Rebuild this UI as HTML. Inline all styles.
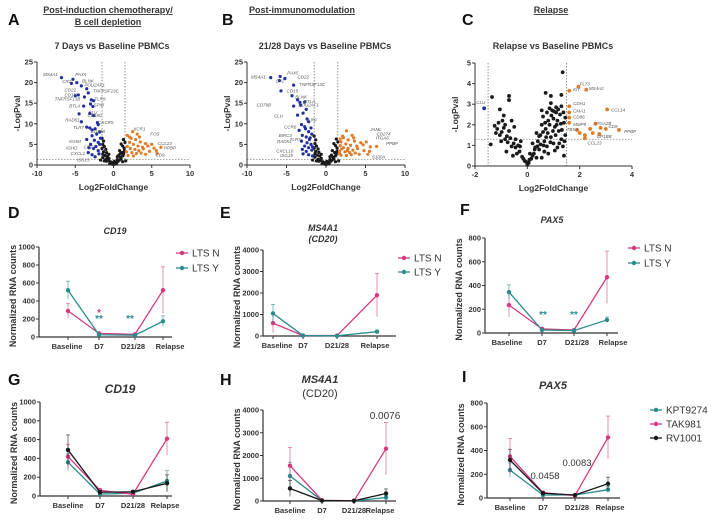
<!DOCTYPE html>
<html><head><meta charset="utf-8"><style>
html,body{margin:0;padding:0;background:#fff;width:720px;height:520px;overflow:hidden}
svg{display:block;font-family:"Liberation Sans",Arial,sans-serif}
.tk{font-size:7.5px;font-weight:bold;fill:#333}
.ttl{font-size:9px;font-weight:bold;fill:#333}
.gene{font-size:4.5px;font-style:italic;fill:#555}
.pl{font-size:16px;font-weight:bold;fill:#111}
</style></head><body>
<svg id="fig" width="720" height="520" viewBox="0 0 720 520" xmlns="http://www.w3.org/2000/svg"></svg>
<script>
// ---------- Volcano data ----------
const aBlue=[[-6.8,21.2],[-5.3,20.8],[-4.8,20],[-5.5,19.8],[-4.2,19.2],[-3.5,18.5],[-3.3,17.5],[-4.6,17],[-5,16.8],[-3.8,16.5],[-2.9,15.8],[-2.6,15.6],[-3,14.8],[-2.7,14.2],[-3.9,14.3],[-3.1,12.5],[-2.6,12],[-4.5,12.4],[-4.2,10.5],[-2.1,10.3],[-3.5,9.2],[-3.1,9],[-2.8,8.5],[-2.4,8.8],[-2.2,7.5],[-2.8,7.1],[-3.5,6.2],[-2.5,6],[-2,5.5],[-3,5],[-2.3,4.5],[-2.6,4],[-1.8,5],[-2,3.5],[-3.3,3],[-2.8,2.5],[-2.4,2],[-1.9,2.7],[-1.7,6.5],[-3.2,4.2],[-2,9.8],[-1.8,8]];
const aOrange=[[2.5,8.1],[3.1,7.5],[2.3,6.5],[2.9,6.2],[3.5,5.6],[4.2,5.2],[5,5],[2.1,5.5],[2.6,5],[3.2,4.6],[3.8,4.3],[4.5,4.6],[5.3,4.1],[6.2,4.3],[1.8,4.5],[2.2,4],[2.8,3.8],[3.3,3.5],[3.9,3.9],[4.7,3.3],[5.6,3.5],[1.7,3.2],[2.4,3],[3,2.8],[3.6,2.9],[1.9,2.3],[2.6,2.2],[4.2,2.6],[5.7,2.8],[2.1,6.8],[1.8,7.2],[3.4,6.8]];
const aBlack=[[-1.5,6.5],[-1.3,5.8],[-1.4,5],[-1.2,4.5],[-1.5,4],[-1,3.8],[-1.3,3.2],[-0.9,3],[-1.4,2.6],[-1.1,2.3],[-0.8,2.1],[-1.4,1.8],[-0.6,1.6],[-1,1.4],[-0.7,1.1],[-0.4,0.8],[-0.9,0.9],[-0.3,0.5],[-0.5,0.3],[-0.2,0.2],[0,0.1],[0.2,0.2],[0.4,0.4],[0.3,0.7],[0.6,0.9],[0.8,1.2],[0.5,1.3],[1,1.5],[0.9,1.9],[1.2,2.2],[0.7,2.4],[1.3,2.7],[1.1,3],[1.4,3.3],[0.8,3.5],[1.4,4],[1.2,4.6],[1,5.1],[1.5,5.5],[1.3,6.2],[-1.7,1.2],[1.6,1.0],[-0.1,0.6],[0.1,0.9],[-0.6,2.6],[0.5,2],[-1.2,1],[1.2,0.8],[-0.8,1.7],[0.9,2.8]];
const bBlue=[[-7,21.2],[-5.8,21.5],[-5.2,21],[-5.9,20.5],[-4.1,19.4],[-5.7,18],[-4.3,16.8],[-3.6,15.8],[-3.3,15.2],[-2.7,15.3],[-3.2,14.5],[-4.1,14.3],[-2.5,13.5],[-2.9,12.6],[-3.6,12.1],[-2.4,11.2],[-2.2,10.5],[-3.1,9.8],[-2.7,9.3],[-1.9,9],[-3.4,8.4],[-2.2,8.1],[-1.8,7.5],[-3,7.2],[-2.5,6.8],[-2.1,6.2],[-3.1,5.8],[-2.4,5.4],[-1.9,5],[-2.7,4.6],[-2.2,4.2],[-3,3.8],[-2.5,3.3],[-1.8,3.6],[-2.9,2.7],[-2.2,2.5],[-1.7,2.2],[-2,6.6],[-1.7,4.4],[-2.6,8.8]];
const bOrange=[[2.6,8.3],[3.3,7.2],[2.2,6.6],[2.8,6.1],[3.6,5.8],[4.4,5.4],[5.1,5.6],[1.9,5.6],[2.5,5.1],[3.1,4.8],[3.9,4.6],[4.7,4.9],[5.6,4.4],[6.4,4.5],[1.8,4.7],[2.2,4.2],[2.8,4],[3.4,3.6],[4,4],[4.8,3.5],[5.5,3.3],[1.7,3.4],[2.4,3.2],[3,3],[3.7,2.9],[1.9,2.4],[2.6,2.3],[4.2,2.6],[5.3,2.6],[2.1,7],[1.8,6.3],[3.5,6.6],[2,3.9],[2.7,3.5],[1.7,2.8],[3.2,2.5]];
const bBlack=[[-1.5,7],[-1.3,6.1],[-1.4,5.2],[-1.2,4.6],[-1.5,4.1],[-1,3.9],[-1.3,3.3],[-0.9,3.1],[-1.4,2.7],[-1.1,2.4],[-0.8,2.2],[-1.4,1.9],[-0.6,1.6],[-1,1.4],[-0.7,1.1],[-0.4,0.8],[-0.9,0.9],[-0.3,0.5],[-0.5,0.3],[-0.2,0.2],[0,0.1],[0.2,0.2],[0.4,0.4],[0.3,0.7],[0.6,0.9],[0.8,1.2],[0.5,1.3],[1,1.5],[0.9,1.9],[1.2,2.2],[0.7,2.4],[1.3,2.7],[1.1,3],[1.4,3.3],[0.8,3.5],[1.4,4.1],[1.2,4.7],[1,5.2],[1.5,5.6],[1.3,6.3],[-1.7,1.2],[1.6,1.0],[-0.1,0.6],[0.1,0.9],[-0.6,2.6],[0.5,2],[-1.2,1],[1.2,0.8]];
const cBlack=[[1.35,4.55],[-1.35,3.35],[-0.7,3.4],[-0.7,3.2],[0.7,3.55],[0.9,3.4],[1.3,3.45],[-1.05,2.75],[-0.9,2.45],[-0.95,2.2],[-1.15,1.8],[-1.2,1.6],[-1.05,1.5],[-0.85,1.3],[-0.7,1.7],[-0.6,2.2],[-0.5,1.9],[-0.45,1.3],[-0.35,1.0],[-0.6,0.95],[-0.3,0.7],[-0.2,0.45],[-0.1,0.25],[0,0.05],[0.05,0.15],[0.15,0.35],[0.25,0.6],[0.3,0.9],[0.4,1.2],[0.35,1.6],[0.5,1.5],[0.55,2],[0.6,2.4],[0.7,1.8],[0.75,2.6],[0.8,2.2],[0.85,2.8],[0.95,2.7],[1.0,2.3],[1.05,1.9],[1.1,2.6],[1.15,2.2],[1.2,1.7],[1.25,2.5],[1.3,2.9],[1.3,1.3],[1.4,2.1],[1.45,1.5],[1.4,0.5],[-1.4,1.05],[0.2,1.1],[0.45,0.8],[0.65,1.2],[0.9,1.4],[1.0,1.1],[-0.25,1.2],[-0.8,0.7],[-0.55,0.5],[0.1,0.6],[0.55,0.4],[1.15,0.9],[0.8,0.6],
 [-1.25,1.95],[-1.1,2.1],[-0.98,1.65],[-0.9,1.85],[-0.78,1.45],[-0.75,1.15],[-0.65,1.35],[-0.52,1.1],[-0.4,0.6],[-0.15,0.35],[-0.05,0.2],[0.08,0.3],[0.2,0.5],[0.28,0.8],[0.38,0.95],[0.45,1.45],[0.5,1.05],[0.6,1.65],[0.62,1.0],[0.68,2.1],[0.72,1.4],[0.78,1.6],[0.85,2.0],[0.88,1.15],[0.92,2.45],[0.98,1.7],[1.02,2.65],[1.08,1.5],[1.12,2.0],[1.18,2.75],[1.22,1.1],[1.28,2.05],[1.32,1.75],[1.38,2.6],[1.42,1.2],[1.45,2.35],[0.55,2.7],[0.65,0.7],[-0.85,2.0],[-1.0,1.2],[-0.45,0.9],[0.9,3.05],[1.1,2.85],[0.35,0.4],[-0.28,0.95],[1.36,0.95],[1.05,0.75],[0.75,0.95]];
const cOrange=[[1.95,3.85],[1.6,3.65],[2.25,3.7],[1.6,2.9],[1.6,2.6],[1.6,2.35],[1.6,2.1],[3.05,2.75],[2.6,2.05],[2.4,1.8],[2.8,1.85],[3.0,1.8],[3.5,1.75],[2.0,1.6],[2.2,1.5],[2.5,1.6],[2.75,1.55],[2.2,1.35],[1.9,1.75]];
const cBlue=[[-1.65,2.8]];

// ---------- Line chart data ----------
const timepoints=["Baseline","D7","D21/28","Relapse"];
const dN=[290,40,30,520], dNerr=[80,15,10,260], dY=[520,25,20,175], dYerr=[100,10,8,60];
const eN=[600,20,20,1900], eNerr=[450,10,10,1000], eY=[1050,20,10,200], eYerr=[420,10,8,80];
const fN=[235,35,25,470], fNerr=[100,10,8,220], fY=[345,25,20,110], fYerr=[60,8,6,25];
const gK=[360,20,30,160], gKerr=[90,10,10,110], gT=[420,60,20,610], gTerr=[130,20,8,175], gR=[490,40,45,135], gRerr=[160,15,12,90];
const hK=[1100,20,10,150], hKerr=[600,10,8,100], hT=[1550,30,10,2300], hTerr=[800,15,8,1150], hR=[550,20,10,330], hRerr=[350,10,8,200];
const iK=[235,25,25,70], iKerr=[60,8,6,25], iT=[350,45,20,510], iTerr=[150,12,6,180], iR=[320,40,25,120], iRerr=[90,10,6,55];

const PINK="#d6397f", TEAL="#2b8c8c", BLK="#1a1a1a";
const NS="http://www.w3.org/2000/svg";
const svg=document.getElementById("fig");
function mk(tag,attrs,parent,txt){const e=document.createElementNS(NS,tag);let st="";for(const k in attrs){if(k.startsWith("font-")||k==="fill"&&tag==="text"){st+=k+":"+attrs[k]+(k==="font-size"?"px":"")+";";}else e.setAttribute(k,attrs[k]);}if(st)e.setAttribute("style",st);if(txt!==undefined)e.textContent=txt;(parent||svg).appendChild(e);return e;}

function txt(x,y,s,cls,anchor,parent,extra){const t=mk("text",Object.assign({x:x,y:y,class:cls,"text-anchor":anchor||"middle"},extra||{}),parent,s);return t;}

// ---------- Volcano ----------
function volcano(name,cfg){
  const g=mk("g",{},svg);
  
  
  const sx=v=>cfg.x0+(v-cfg.xmin)/(cfg.xmax-cfg.xmin)*(cfg.x1-cfg.x0);
  const sy=v=>cfg.y0-(v-cfg.ymin)/(cfg.ymax-cfg.ymin)*(cfg.y0-cfg.y1);
  cfg.vlines.forEach(v=>{const l=mk("line",{x1:sx(v),x2:sx(v),y1:cfg.y1,y2:cfg.y0,stroke:"#777","stroke-width":0.8,"stroke-dasharray":"1.5,1.5"},g);});
  const hl=mk("line",{x1:cfg.x0,x2:cfg.x1,y1:sy(cfg.hline),y2:sy(cfg.hline),stroke:"#888","stroke-width":0.8,"stroke-dasharray":"1.5,1.5"},g);
  
  const sets=[[cfg.black,BLK,"gene-point-ns"],[cfg.orange,"#e07b28","gene-point-up"],[cfg.blue,"#1f2fa0","gene-point-down"]];
  sets.forEach(([arr,col,nm])=>arr.forEach(p=>{const c=mk("circle",{cx:sx(p[0]),cy:sy(p[1]),r:cfg.r,fill:col},g);}));
  mk("line",{x1:cfg.x0,x2:cfg.x0,y1:cfg.y1,y2:cfg.y0,stroke:"#333","stroke-width":1},g);
  mk("line",{x1:cfg.x0,x2:cfg.x1,y1:cfg.y0,y2:cfg.y0,stroke:"#333","stroke-width":1},g);
  cfg.yt.forEach(v=>{mk("line",{x1:cfg.x0-3,x2:cfg.x0,y1:sy(v),y2:sy(v),stroke:"#333"},g);txt(cfg.x0-4,sy(v)+2.5,v,"tk","end",g);});
  cfg.xt.forEach(v=>{mk("line",{x1:sx(v),x2:sx(v),y1:cfg.y0,y2:cfg.y0+3,stroke:"#333"},g);txt(sx(v),cfg.y0+11,v,"tk","middle",g);});
  txt((cfg.x0+cfg.x1)/2,cfg.y0+25,"Log2FoldChange","ttl","middle",g,{"font-size":"8.5"});
  txt(cfg.x0-17,(cfg.y0+cfg.y1)/2,"-LogPval","ttl","middle",g,{transform:`rotate(-90 ${cfg.x0-17} ${(cfg.y0+cfg.y1)/2})`,"font-size":"8.5"});
  cfg.labels.forEach(l=>txt(sx(l[1]),sy(l[2]),l[0],"gene","start",g));
}
volcano("volcano-a",{x0:37,x1:190,y0:165,y1:62,xmin:-10,xmax:10,ymin:0,ymax:25,xt:[-10,-5,0,5,10],yt:[0,5,10,15,20,25],vlines:[-1.5,1.5],hline:1.3,r:1.6,blue:aBlue,orange:aOrange,black:aBlack,
 labels:[["MS4A1",-9.2,21.6],["PAX5",-5,21.6],["CR2",-6.7,19.9],["BLNK",-4.1,20],["POU2AF1",-3.8,19],["CD22",-6.4,17.8],["TNFRSF13C",-2.7,17.6],["CD19",-6.4,16.6],["TLR9",-2.5,15.6],["TNFRSF13B",-7.7,15.7],["BTLA",-5.8,14],["SPIB",-2.6,14.2],["CLU",-3.3,12.4],["RAD51",-6.3,10.6],["CD180",-3.4,11.6],["CXCR5",-2,10],["TLR7",-5.3,8.7],["CD79B",-3,7.8],["IGHM",-5.8,5.4],["IGHD",-6.2,3.8],["CD72",-3.9,4],["CXCL1",-5.6,2.4],["ISG15",-4.8,0.8],["XCR1",2.6,8.4],["FOS",4.8,7.2],["CCL23",5.8,4.9],["PPBP",6.6,3.8],["CD9",5.5,2.1]]});
volcano("volcano-b",{x0:247,x1:405,y0:165,y1:62,xmin:-10,xmax:10,ymin:0,ymax:25,xt:[-10,-5,0,5,10],yt:[0,5,10,15,20,25],vlines:[-1.5,1.5],hline:1.3,r:1.6,blue:bBlue,orange:bOrange,black:bBlack,
 labels:[["MS4A1",-9.5,21],["PAX5",-4.9,22],["CR2",-6.4,20],["CD22",-3.6,21],["TNFRSF13C",-3.4,19.2],["CD19",-5,17.6],["BLNK",-3.9,16.2],["CD79B",-8.8,14.2],["BTLA",-2.8,15],["POU2AF1",-3.5,14.2],["CLU",-6.6,11.5],["TLR9",-2.6,10.6],["CCR6",-5.3,8.8],["BIRC3",-6,6.8],["TLR7",-4.6,5.8],["RAD51",-6.2,5.4],["CXCL10",-6.3,3],["ISG15",-5.8,2],["JAML",5.6,8.2],["CD274",6.4,7.2],["ITGA6",6.3,6.2],["PPBP",7.6,4.8],["S100A",5.8,1.6]]});
volcano("volcano-c",{x0:475,x1:632,y0:166,y1:63,xmin:-2,xmax:4,ymin:0,ymax:5,xt:[-2,0,2,4],yt:[0,1,2,3,4,5],vlines:[-1.5,1.5],hline:1.3,r:1.9,blue:cBlue,orange:cOrange,black:cBlack,
 labels:[["CLU",-1.95,3.0],["FLT3",2.0,3.9],["KIT",1.75,3.65],["MS4A2",2.35,3.7],["CDH1",1.75,2.95],["CMA1",1.75,2.6],["CD86",1.75,2.3],["MMP9",1.75,1.95],["CCL14",3.2,2.65],["ITGA2B",2.6,2.0],["TBXA",1.5,1.7],["CD9",3.1,1.85],["PPBP",3.7,1.6],["GP1BB",2.65,1.35],["CCL23",2.3,1.05]]});

// ---------- Line charts ----------
function lineChart(name,cfg){
  const g=mk("g",{},svg);
  
  
  const sy=v=>cfg.y0-v/cfg.ymax*(cfg.y0-cfg.y1);
  const sx=i=>cfg.xs[i];
  mk("line",{x1:cfg.ax,x2:cfg.ax,y1:cfg.y1,y2:cfg.y0,stroke:"#333","stroke-width":1.2},g);
  mk("line",{x1:cfg.ax,x2:cfg.xend,y1:cfg.y0,y2:cfg.y0,stroke:"#333","stroke-width":1.2},g);
  cfg.yt.forEach(v=>{mk("line",{x1:cfg.ax-3,x2:cfg.ax,y1:sy(v),y2:sy(v),stroke:"#333"},g);txt(cfg.ax-4,sy(v)+2.5,v,"tk","end",g);});
  timepoints.forEach((t,i)=>{mk("line",{x1:sx(i),x2:sx(i),y1:cfg.y0,y2:cfg.y0+3,stroke:"#333"},g);const lx=cfg.lx?cfg.lx[i]:sx(i);txt(lx,cfg.y0+12,t,"tk","middle",g);});
  const yc=(cfg.y0+cfg.y1)/2;
  txt(cfg.ax-23,yc+4,"Normalized RNA counts","ttl","middle",g,{transform:`rotate(-90 ${cfg.ax-23} ${yc+4})`,"font-size":"9"});
  cfg.series.forEach(s=>{
    const sg=mk("g",{},g);
    
    
    s.vals.forEach((v,i)=>{const e=s.err[i];mk("line",{x1:sx(i),x2:sx(i),y1:sy(v+e),y2:sy(Math.max(0,v-e)),stroke:s.col,"stroke-width":0.8,opacity:0.7},sg);mk("line",{x1:sx(i)-2,x2:sx(i)+2,y1:sy(v+e),y2:sy(v+e),stroke:s.col,"stroke-width":0.8,opacity:0.7},sg);});
    mk("polyline",{points:s.vals.map((v,i)=>sx(i)+","+sy(v)).join(" "),fill:"none",stroke:s.col,"stroke-width":1.3},sg);
    s.vals.forEach((v,i)=>{const c=mk("circle",{cx:sx(i),cy:sy(v),r:2.2,fill:s.col},sg);});
  });
  (cfg.notes||[]).forEach(n=>txt(n[0],n[1],n[2],"tk","middle",g,{fill:n[3],"font-weight":n[5]||"bold","font-size":n[6]||"10"}));
}
function legend(name,x,y,items,dy){
  const g=mk("g",{},svg);
  
  
  items.forEach((it,k)=>{const yy=y+k*dy;mk("line",{x1:x,x2:x+12,y1:yy,y2:yy,stroke:it[1],"stroke-width":1.3},g);mk("circle",{cx:x+6,cy:yy,r:2.2,fill:it[1]},g);txt(x+16,yy+3.5,it[0],"tk","start",g,{"font-weight":"normal","font-size":"10","fill":"#333"});});
}
lineChart("chart-d-cd19",{ax:39,xend:172,y0:337,y1:247,ymax:1000,yt:[0,200,400,600,800,1000],xs:[68,99,135,163],lx:[67,99,133,170],
 series:[{name:"series-lts-n",vals:dN,err:dNerr,col:PINK},{name:"series-lts-y",vals:dY,err:dYerr,col:TEAL}],
 notes:[[99,316,"*",PINK],[99,322,"**",TEAL],[130,322,"**",TEAL]]});
lineChart("chart-e-ms4a1",{ax:263,xend:396,y0:336,y1:250,ymax:4000,yt:[0,1000,2000,3000,4000],xs:[273,303,337,377],lx:[277,303,337,375],
 series:[{name:"series-lts-n",vals:eN,err:eNerr,col:PINK},{name:"series-lts-y",vals:eY,err:eYerr,col:TEAL}]});
lineChart("chart-f-pax5",{ax:485,xend:618,y0:333,y1:238,ymax:800,yt:[0,200,400,600,800],xs:[509,542,574,607],lx:[507,542,577,613],
 series:[{name:"series-lts-n",vals:fN,err:fNerr,col:PINK},{name:"series-lts-y",vals:fY,err:fYerr,col:TEAL}],
 notes:[[543,318,"**",TEAL],[574,318,"**",TEAL]]});
lineChart("chart-g-cd19",{ax:40,xend:172,y0:496,y1:402,ymax:1000,yt:[0,200,400,600,800,1000],xs:[68,100,133,167],lx:[68,100,133,165],
 series:[{name:"series-kpt9274",vals:gK,err:gKerr,col:TEAL},{name:"series-tak981",vals:gT,err:gTerr,col:PINK},{name:"series-rv1001",vals:gR,err:gRerr,col:BLK}]});
lineChart("chart-h-ms4a1",{ax:263,xend:396,y0:501,y1:410,ymax:4000,yt:[0,1000,2000,3000,4000],xs:[290,322,354,386],lx:[290,322,354,380],
 series:[{name:"series-kpt9274",vals:hK,err:hKerr,col:TEAL},{name:"series-tak981",vals:hT,err:hTerr,col:PINK},{name:"series-rv1001",vals:hR,err:hRerr,col:BLK}],
 notes:[[385,419,"0.0076","#333","","normal","10"]]});
lineChart("chart-i-pax5",{ax:487,xend:620,y0:498,y1:403,ymax:800,yt:[0,200,400,600,800],xs:[510,543,575,608],lx:[510,543,577,610],
 series:[{name:"series-kpt9274",vals:iK,err:iKerr,col:TEAL},{name:"series-tak981",vals:iT,err:iTerr,col:PINK},{name:"series-rv1001",vals:iR,err:iRerr,col:BLK}],
 notes:[[545,479,"0.0458","#333","","normal","9.5"],[577,466,"0.0083","#333","","normal","9.5"]]});
legend("legend-d",176,253,[["LTS N",PINK],["LTS Y",TEAL]],15);
legend("legend-e",398,258,[["LTS N",PINK],["LTS Y",TEAL]],14);
legend("legend-f",628,248,[["LTS N",PINK],["LTS Y",TEAL]],15);
legend("legend-i",650,410,[["KPT9274",TEAL],["TAK981",PINK],["RV1001",BLK]],14);

// ---------- Titles & panel letters ----------
function label(x,y,s,cls,anchor,name,extra){const t=txt(x,y,s,cls,anchor,svg,extra||{});return t;}
label(8,25,"A","pl","start","panel-label-a");
label(222,25,"B","pl","start","panel-label-b");
label(462,25,"C","pl","start","panel-label-c");
label(8,218,"D","pl","start","panel-label-d");
label(220,218,"E","pl","start","panel-label-e");
label(460,215,"F","pl","start","panel-label-f");
label(8,385,"G","pl","start","panel-label-g");
label(220,385,"H","pl","start","panel-label-h");
label(462,382,"I","pl","start","panel-label-i");
label(108,13,"Post-induction chemotherapy/","ttl","middle","section-title-a",{"text-decoration":"underline"});
label(108,25,"B cell depletion","ttl","middle","section-title-a-2",{"text-decoration":"underline"});
label(302,13,"Post-immunomodulation","ttl","middle","section-title-b",{"text-decoration":"underline"});
label(551,13,"Relapse","ttl","middle","section-title-c",{"text-decoration":"underline"});
label(112,49,"7 Days vs Baseline PBMCs","ttl","middle","volcano-a-title");
label(325,49,"21/28 Days vs Baseline PBMCs","ttl","middle","volcano-b-title");
label(553,49,"Relapse vs Baseline PBMCs","ttl","middle","volcano-c-title");
label(115,234,"CD19","ttl","middle","chart-d-title",{"font-style":"italic"});
label(323,231,"MS4A1","ttl","middle","chart-e-title",{"font-style":"italic"});
label(323,242,"(CD20)","ttl","middle","chart-e-subtitle",{"font-style":"italic"});
label(552,223,"PAX5","ttl","middle","chart-f-title",{"font-style":"italic"});
label(120,393,"CD19","ttl","middle","chart-g-title",{"font-style":"italic","font-size":"12"});
label(320,383,"MS4A1","ttl","middle","chart-h-title",{"font-style":"italic","font-size":"11"});
label(320,397,"(CD20)","ttl","middle","chart-h-subtitle",{"font-weight":"normal","font-size":"11"});
label(553,389,"PAX5","ttl","middle","chart-i-title",{"font-style":"italic","font-size":"11"});
</script>
</body></html>
